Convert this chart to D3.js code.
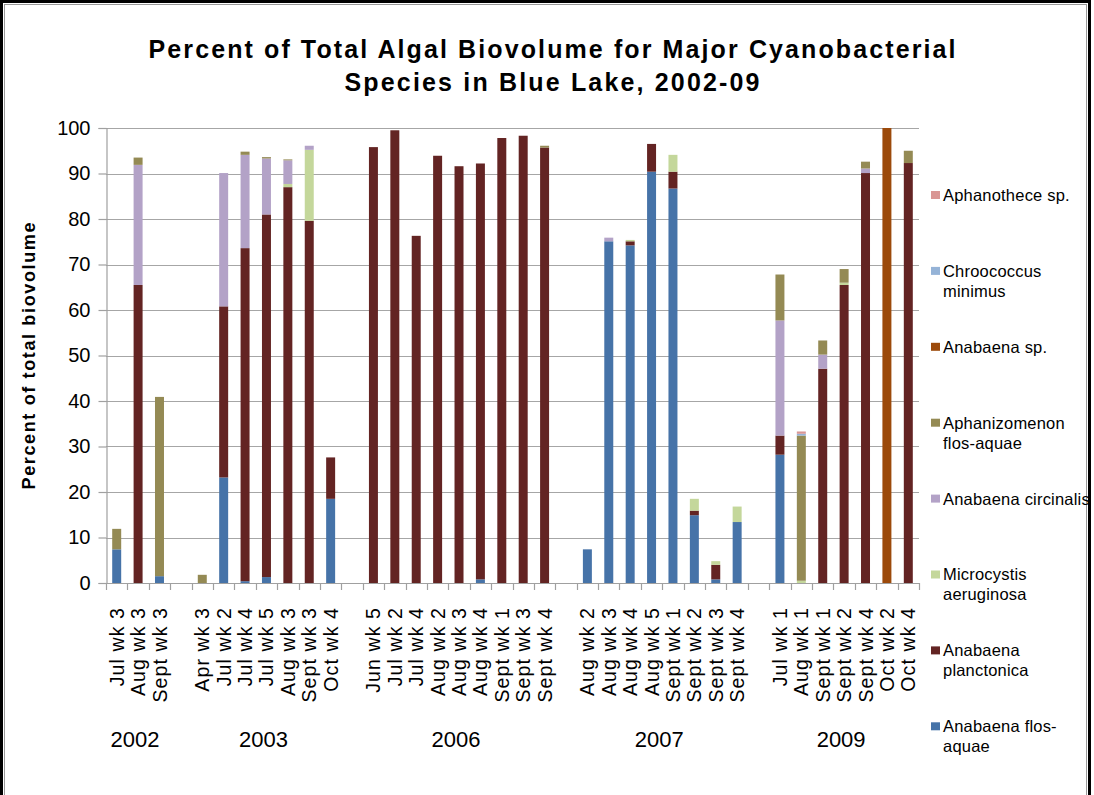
<!DOCTYPE html>
<html>
<head>
<meta charset="utf-8">
<script src="https://cdn.jsdelivr.net/npm/d3@7"></script>
<style>
  body { margin: 0; background: #fff; }
  text { font-family: "Liberation Sans", Arial, sans-serif; fill: #000; }
</style>
</head>
<body>
<script>
let w = 1094;
let h = 795;

// categories, blank entries are the gaps between years
let categories = ["Jul wk 3", "Aug wk 3", "Sept wk 3", "",
    "Apr wk 3", "Jul wk 2", "Jul wk 4", "Jul wk 5", "Aug wk 3", "Sept wk 3", "Oct wk 4", "",
    "Jun wk 5", "Jul wk 2", "Jul wk 4", "Aug wk 2", "Aug wk 3", "Aug wk 4", "Sept wk 1", "Sept wk 3", "Sept wk 4", "",
    "Aug wk 2", "Aug wk 3", "Aug wk 4", "Aug wk 5", "Sept wk 1", "Sept wk 2", "Sept wk 3", "Sept wk 4", "",
    "Jul wk 1", "Aug wk 1", "Sept wk 1", "Sept wk 2", "Sept wk 4", "Oct wk 2", "Oct wk 4"];

let years = ["2002", "2003", "2006", "2007", "2009"];
let yearFirst = [0, 4, 12, 22, 31];
let yearLast = [2, 10, 20, 29, 37];

let yTicks = [0, 10, 20, 30, 40, 50, 60, 70, 80, 90, 100];

// series values (percent), one per category
let flosAquae = [7.4, 0, 1.5, 0,
    0, 23.2, 0.4, 1.3, 0, 0, 18.5, 0,
    0, 0, 0, 0, 0, 0.8, 0, 0, 0, 0,
    7.4, 75.1, 74.2, 90.4, 86.7, 14.9, 0.8, 13.4, 0,
    28.2, 0, 0, 0, 0, 0, 0];
let planctonica = [0, 65.5, 0, 0,
    0, 37.6, 73.2, 79.7, 87.0, 79.6, 9.1, 0,
    95.8, 99.5, 76.3, 93.9, 91.6, 91.4, 97.8, 98.3, 95.7, 0,
    0, 0, 0.9, 6.1, 3.7, 1.0, 3.2, 0, 0,
    4.2, 0, 47.1, 65.5, 90.1, 0, 92.3];
let microcystis = [0, 0, 0, 0,
    0, 0, 0, 0, 0.7, 15.6, 0, 0,
    0, 0, 0, 0, 0, 0, 0, 0, 0, 0,
    0, 0, 0.3, 0, 3.7, 2.6, 0.8, 3.4, 0,
    0, 0.5, 0, 0.5, 0, 0, 0];
let circinalis = [0, 26.4, 0, 0,
    0, 29.3, 20.5, 12.3, 5.2, 0.9, 0, 0,
    0, 0, 0, 0, 0, 0, 0, 0, 0, 0,
    0, 0.8, 0, 0, 0, 0, 0, 0, 0,
    25.3, 0, 3.1, 0, 1.0, 0, 0];
let aphanizomenon = [4.5, 1.6, 39.4, 0,
    1.8, 0, 0.7, 0.3, 0.2, 0, 0, 0,
    0, 0, 0, 0, 0, 0, 0, 0, 0.4, 0,
    0, 0, 0, 0, 0, 0, 0, 0, 0,
    10.1, 31.9, 3.1, 3.0, 1.5, 0, 2.7];
let anabaenaSp = [0, 0, 0, 0,
    0, 0, 0, 0, 0, 0, 0, 0,
    0, 0, 0, 0, 0, 0, 0, 0, 0, 0,
    0, 0, 0, 0, 0, 0, 0, 0, 0,
    0, 0, 0, 0, 0, 100, 0];
let chroococcus = [0, 0, 0, 0,
    0, 0, 0, 0, 0, 0, 0, 0,
    0, 0, 0, 0, 0, 0, 0, 0, 0, 0,
    0, 0, 0, 0, 0, 0, 0, 0, 0,
    0, 0.4, 0, 0, 0, 0, 0];
let aphanothece = [0, 0, 0, 0,
    0, 0, 0, 0, 0, 0, 0, 0,
    0, 0, 0, 0, 0, 0, 0, 0, 0, 0,
    0, 0, 0, 0, 0, 0, 0, 0, 0,
    0, 0.5, 0, 0, 0, 0, 0];

// stacking order, bottom first
let species = [
    { key: "Anabaena flos-aquae", values: flosAquae, color: "#4673a8", lines: ["Anabaena flos-", "aquae"] },
    { key: "Anabaena planctonica", values: planctonica, color: "#632423", lines: ["Anabaena", "planctonica"] },
    { key: "Microcystis aeruginosa", values: microcystis, color: "#c4d79b", lines: ["Microcystis", "aeruginosa"] },
    { key: "Anabaena circinalis", values: circinalis, color: "#b3a2c7", lines: ["Anabaena circinalis"] },
    { key: "Aphanizomenon flos-aquae", values: aphanizomenon, color: "#948a54", lines: ["Aphanizomenon", "flos-aquae"] },
    { key: "Anabaena sp.", values: anabaenaSp, color: "#9c4a0b", lines: ["Anabaena sp."] },
    { key: "Chroococcus minimus", values: chroococcus, color: "#95b3d7", lines: ["Chroococcus", "minimus"] },
    { key: "Aphanothece sp.", values: aphanothece, color: "#d99694", lines: ["Aphanothece sp."] }
];

// rows for d3.stack
let rows = categories.map(function(c, i) {
    let row = { idx: i };
    species.forEach(function(s) { row[s.key] = s.values[i]; });
    return row;
});

let stack = d3.stack().keys(species.map(function(s) { return s.key; }));
let series = stack(rows);

let xScale = d3.scaleBand()
    .domain(d3.range(categories.length))
    .range([106, 919])
    .paddingInner(0.58)
    .paddingOuter(0.29);

let yScale = d3.scaleLinear()
    .domain([0, 100])
    .range([583, 128]);

let svg = d3.select("body")
    .append("svg")
    .attr("width", w)
    .attr("height", h);

// chart border
svg.append("rect")
    .attr("x", 1.5).attr("y", 1.5)
    .attr("width", 1088).attr("height", 800)
    .attr("fill", "#fff")
    .attr("stroke", "#000")
    .attr("stroke-width", 3);
svg.append("rect")
    .attr("x", 4.5).attr("y", 4.5)
    .attr("width", 1082).attr("height", 800)
    .attr("fill", "none")
    .attr("stroke", "#999")
    .attr("stroke-width", 1);

// gridlines
svg.append("g")
    .selectAll("line")
    .data(yTicks.slice(1))
    .enter()
    .append("line")
    .attr("x1", 106).attr("x2", 919)
    .attr("y1", function(d) { return Math.round(yScale(d)) + 0.5; })
    .attr("y2", function(d) { return Math.round(yScale(d)) + 0.5; })
    .attr("stroke", "#a6a6a6")
    .attr("stroke-width", 1.2);

// bars
svg.append("g")
    .selectAll("g")
    .data(series)
    .enter()
    .append("g")
    .attr("fill", function(d, i) { return species[i].color; })
    .selectAll("rect")
    .data(function(d) { return d.filter(function(p) { return p[1] - p[0] > 0; }); })
    .enter()
    .append("rect")
    .attr("x", function(d) { return xScale(d.data.idx); })
    .attr("width", xScale.bandwidth())
    .attr("y", function(d) { return yScale(d[1]); })
    .attr("height", function(d) { return yScale(d[0]) - yScale(d[1]); });

// y axis
let yAxis = d3.axisLeft(yScale)
    .tickValues(yTicks)
    .tickSize(8)
    .tickPadding(8);

let yg = svg.append("g")
    .attr("transform", "translate(106.5,0)")
    .call(yAxis);
yg.select(".domain").attr("stroke", "#a0a0a0").attr("stroke-width", 1.2);
yg.selectAll(".tick line").attr("stroke", "#a0a0a0").attr("stroke-width", 1.2);
yg.selectAll(".tick text")
    .style("font-size", "20px")
    .style("font-family", "'Liberation Sans', Arial, sans-serif")
    .attr("fill", "#000");

// x axis line and ticks between categories
let step = xScale.step();
let edges = d3.range(categories.length + 1).map(function(i) {
    return 106 + (i === 0 ? 0 : xScale(i - 1) + xScale.bandwidth() + step * xScale.paddingInner() / 2 - 106);
});
edges[edges.length - 1] = 919;

svg.append("line")
    .attr("x1", 106).attr("x2", 919)
    .attr("y1", 583.5).attr("y2", 583.5)
    .attr("stroke", "#a0a0a0")
    .attr("stroke-width", 1.2);

svg.append("g")
    .selectAll("line")
    .data(edges)
    .enter()
    .append("line")
    .attr("x1", function(d) { return Math.round(d) + 0.5; })
    .attr("x2", function(d) { return Math.round(d) + 0.5; })
    .attr("y1", 583).attr("y2", 590)
    .attr("stroke", "#a0a0a0")
    .attr("stroke-width", 1.2);

// category labels
svg.append("g")
    .selectAll("text")
    .data(categories)
    .enter()
    .append("text")
    .attr("transform", function(d, i) {
        return "translate(" + (xScale(i) + xScale.bandwidth() / 2) + ",607) rotate(-90)";
    })
    .attr("text-anchor", "end")
    .attr("dy", "0.36em")
    .style("font-size", "19.5px")
    .style("letter-spacing", "1.1px")
    .text(function(d) { return d; });

// year labels
svg.append("g")
    .selectAll("text")
    .data(years)
    .enter()
    .append("text")
    .attr("x", function(d, i) {
        return (xScale(yearFirst[i]) + xScale(yearLast[i]) + xScale.bandwidth()) / 2 - 3;
    })
    .attr("y", 747)
    .attr("text-anchor", "middle")
    .style("font-size", "22px")
    .text(function(d) { return d; });

// titles
svg.append("text")
    .attr("x", 552).attr("y", 58)
    .attr("text-anchor", "middle")
    .attr("textLength", 807)
    .attr("lengthAdjust", "spacing")
    .style("font-size", "25px")
    .style("font-weight", "bold")
    .text("Percent of Total Algal Biovolume for Major Cyanobacterial");
svg.append("text")
    .attr("x", 552).attr("y", 91)
    .attr("text-anchor", "middle")
    .attr("textLength", 415)
    .attr("lengthAdjust", "spacing")
    .style("font-size", "25px")
    .style("font-weight", "bold")
    .text("Species in Blue Lake, 2002-09");

svg.append("text")
    .attr("transform", "translate(35,356) rotate(-90)")
    .attr("text-anchor", "middle")
    .attr("textLength", 267)
    .attr("lengthAdjust", "spacing")
    .style("font-size", "18px")
    .style("font-weight", "bold")
    .text("Percent of total biovolume");

// legend, top entry is the last stacked series
let legendItems = species.slice().reverse();
let legend = svg.append("g")
    .selectAll("g")
    .data(legendItems)
    .enter()
    .append("g")
    .attr("transform", function(d, i) { return "translate(931," + (195 + i * 75.9) + ")"; });

legend.append("rect")
    .attr("x", 0).attr("y", -4)
    .attr("width", 9).attr("height", 8)
    .attr("fill", function(d) { return d.color; });

legend.append("text")
    .attr("x", 12)
    .style("font-size", "16.5px")
    .style("letter-spacing", "0.2px")
    .selectAll("tspan")
    .data(function(d) { return d.lines; })
    .enter()
    .append("tspan")
    .attr("x", 12)
    .attr("y", function(d, i) { return i * 20; })
    .attr("dy", "0.36em")
    .text(function(d) { return d; });
</script>
</body>
</html>
